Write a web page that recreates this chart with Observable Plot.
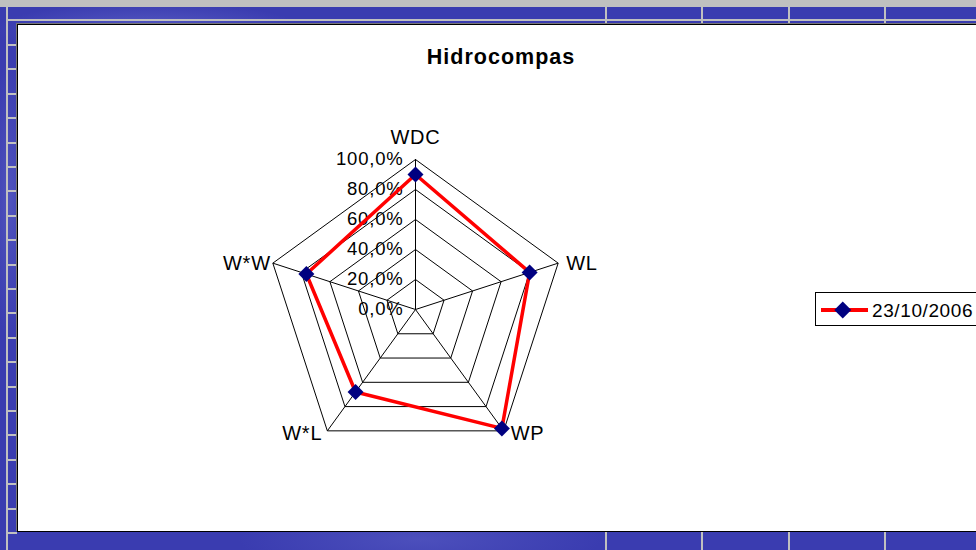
<!DOCTYPE html>
<html><head><meta charset="utf-8">
<script src="https://cdn.jsdelivr.net/npm/d3@7"></script>
<script src="https://cdn.jsdelivr.net/npm/@observablehq/plot@0.6"></script>
<style>
html,body{margin:0;padding:0;width:976px;height:550px;overflow:hidden;}
body{position:relative;font-family:"Liberation Sans",Arial,sans-serif;
 background:
  radial-gradient(ellipse 220px 40px at 150px 30px, rgba(120,125,215,0.45), rgba(120,125,215,0) 70%),
  radial-gradient(ellipse 260px 50px at 420px 540px, rgba(110,115,210,0.35), rgba(110,115,210,0) 70%),
  radial-gradient(ellipse 30px 200px at 10px 200px, rgba(120,125,215,0.35), rgba(120,125,215,0) 70%),
  #3a3cb0;}
.gray{position:absolute;background:#c0c0c0;}
#chart{position:absolute;left:17px;top:24px;width:1000px;height:506px;background:#fff;border:1px solid #000;box-shadow:-1px -1px 0 #777;}
#plot{position:absolute;left:0;top:0;}
#plot svg text{letter-spacing:0.8px;}
#plot svg text.cat{letter-spacing:1px;}
#title{position:absolute;left:401px;width:200px;top:46.5px;text-align:center;font-weight:bold;font-size:21.5px;line-height:21.5px;letter-spacing:1px;color:#000;white-space:nowrap;}
#legend{position:absolute;left:815px;top:292px;width:200px;height:32px;border:1px solid #000;background:#fff;}
#legline{position:absolute;left:821px;top:308px;width:47px;height:4px;background:#ff0000;}
#legmark{position:absolute;left:837px;top:304px;width:11.5px;height:11.5px;background:#000080;transform:rotate(45deg);}
#legtext{position:absolute;left:872px;top:300.5px;font-size:19px;line-height:19px;letter-spacing:0.6px;color:#000;white-space:nowrap;}
</style></head><body>
<div class="gray" style="left:0;top:0;width:976px;height:7px"></div>
<div class="gray" style="left:6px;top:7px;width:2px;height:543px"></div>
<div class="gray" style="left:6px;top:19px;width:970px;height:2px"></div>
<div id="vlines"></div>
<div id="ticks"></div>
<div id="chart"></div>
<div id="plot"></div>
<div id="title"></div>
<div id="legend"></div>
<div id="legline"></div>
<div id="legmark"></div>
<div id="legtext"></div>
<script>
// ---- data ----
const title = "Hidrocompas";
const seriesName = "23/10/2006";
const categories = ["WDC", "WL", "WP", "W*L", "W*W"];
const values = [0.90, 0.80, 0.98, 0.68, 0.765];
const tickValues = [0, 0.2, 0.4, 0.6, 0.8, 1.0];
const tickLabels = ["0,0%", "20,0%", "40,0%", "60,0%", "80,0%", "100,0%"];

// ---- decorations (window frame) ----
const vl = document.getElementById("vlines");
[605, 701, 788, 884].forEach(x => {
  vl.insertAdjacentHTML("beforeend", `<div class="gray" style="left:${x}px;top:7px;width:2px;height:17px"></div>`);
  vl.insertAdjacentHTML("beforeend", `<div class="gray" style="left:${x}px;top:532px;width:2px;height:18px"></div>`);
});
const tk = document.getElementById("ticks");
for (let y = 44; y < 535; y += 24.4) {
  tk.insertAdjacentHTML("beforeend", `<div class="gray" style="left:8px;top:${y.toFixed(1)}px;width:9px;height:2px"></div>`);
}

document.getElementById("title").textContent = title;
document.getElementById("legtext").textContent = seriesName;

// ---- radar geometry through Plot scales ----
const n = categories.length;
const ang = i => (2 * Math.PI * i) / n;
const px = (r, i) => r * Math.sin(ang(i));
const py = (r, i) => r * Math.cos(ang(i));

const rings = tickValues.filter(t => t > 0).flatMap(t => d3.range(n + 1).map(k => ({r: t, i: k % n})));
const cats = categories.map((c, i) => ({c, i}));
const series = d3.range(n + 1).map(k => ({v: values[k % n], i: k % n}));
const pts = values.map((v, i) => ({v, i}));
const ticks = tickValues.map((t, k) => ({t, label: tickLabels[k]}));

const font = "'Liberation Sans', Arial, sans-serif";
const catText = (i, opts) => Plot.text(cats, {filter: d => d.i === i, x: d => px(1, d.i), y: d => py(1, d.i), text: "c", fontSize: 20, fill: "#000", className: "cat", ...opts});
const chart = Plot.plot({
  width: 976,
  height: 550,
  margin: 0,
  x: {domain: [-1, 1], range: [265, 565], axis: null},
  y: {domain: [-1, 1], range: [459, 159], axis: null},
  style: {background: "transparent", fontFamily: font},
  marks: [
    Plot.line(rings, {x: d => px(d.r, d.i), y: d => py(d.r, d.i), z: "r", stroke: "#000", strokeWidth: 1, strokeLinejoin: "miter"}),
    Plot.link(cats, {x1: () => 0, y1: () => 0, x2: d => px(1, d.i), y2: d => py(1, d.i), stroke: "#000", strokeWidth: 1}),
    Plot.text(ticks, {x: () => 0, y: d => d.t, text: "label", textAnchor: "end", dx: -12, fontSize: 18.5, fill: "#000"}),
    catText(0, {textAnchor: "middle", dy: -22}),
    catText(1, {textAnchor: "start", dx: 8}),
    catText(2, {textAnchor: "start", dx: 7, dy: 3}),
    catText(3, {textAnchor: "end", dx: -5, dy: 3}),
    catText(4, {textAnchor: "end", dx: -2}),
    Plot.line(series, {x: d => px(d.v, d.i), y: d => py(d.v, d.i), stroke: "#ff0000", strokeWidth: 3.5, strokeLinejoin: "miter"}),
    Plot.dot(pts, {x: d => px(d.v, d.i), y: d => py(d.v, d.i), symbol: "diamond2", r: 7.2, fill: "#000080", stroke: "none"})
  ]
});
document.getElementById("plot").appendChild(chart);
</script>
</body></html>
